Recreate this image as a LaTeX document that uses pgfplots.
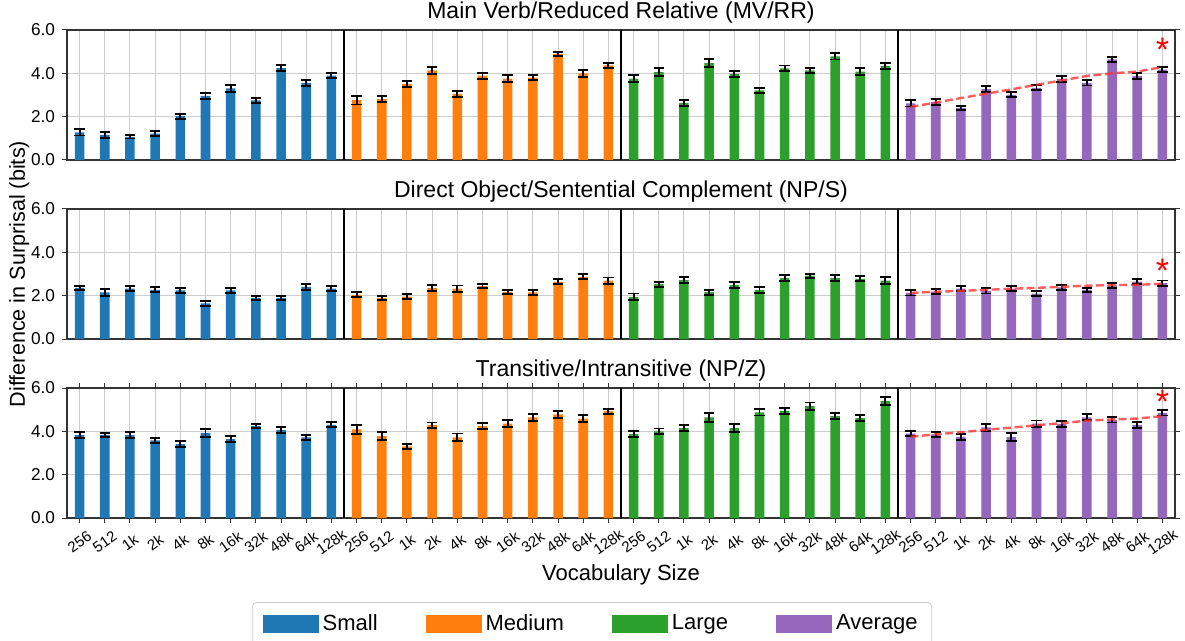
\documentclass[border=0pt]{standalone}
\usepackage{fontspec}
\setmainfont{Liberation Sans}
\usepackage{pgfplots}
\pgfplotsset{compat=1.18}
\usepackage{pgfplotstable}
\usepgfplotslibrary{groupplots}

\definecolor{cS}{HTML}{1F77B4}
\definecolor{cM}{HTML}{FF7F0E}
\definecolor{cL}{HTML}{2CA02C}
\definecolor{cA}{HTML}{9467BD}

% i, small, err, medium, err, large, err, average, err, trend (average)
\pgfplotstableread{
i s se m me l le a ae t
0 1.28 0.15 2.76 0.20 3.76 0.15 2.61 0.14 2.45
1 1.16 0.13 2.81 0.15 4.05 0.18 2.67 0.14 2.65
2 1.07 0.08 3.51 0.13 2.63 0.12 2.41 0.10 2.86
3 1.22 0.10 4.14 0.17 4.47 0.18 3.27 0.15 3.06
4 2.02 0.12 3.05 0.13 3.97 0.12 3.01 0.12 3.26
5 2.96 0.15 3.89 0.14 3.21 0.12 3.33 0.12 3.47
6 3.30 0.18 3.76 0.15 4.23 0.13 3.74 0.15 3.67
7 2.75 0.12 3.80 0.12 4.14 0.12 3.56 0.12 3.88
8 4.24 0.15 4.90 0.10 4.78 0.14 4.64 0.12 4.00
9 3.56 0.13 4.00 0.15 4.08 0.15 3.88 0.15 4.08
10 3.89 0.12 4.37 0.12 4.34 0.13 4.17 0.12 4.29
}\mvrr

\pgfplotstableread{
i s se m me l le a ae t
0 2.36 0.10 2.04 0.12 1.95 0.15 2.13 0.12 2.13
1 2.15 0.15 1.90 0.10 2.53 0.12 2.19 0.10 2.18
2 2.33 0.12 1.96 0.12 2.72 0.15 2.33 0.10 2.22
3 2.27 0.12 2.35 0.15 2.16 0.12 2.22 0.12 2.27
4 2.24 0.12 2.32 0.15 2.50 0.15 2.32 0.12 2.32
5 1.64 0.10 2.44 0.10 2.26 0.12 2.10 0.10 2.36
6 2.24 0.13 2.18 0.10 2.81 0.13 2.38 0.12 2.41
7 1.89 0.10 2.15 0.12 2.92 0.10 2.27 0.10 2.46
8 1.89 0.10 2.64 0.12 2.81 0.13 2.47 0.12 2.49
9 2.41 0.13 2.87 0.12 2.78 0.12 2.65 0.12 2.50
10 2.33 0.12 2.69 0.15 2.70 0.15 2.58 0.12 2.55
}\nps

\pgfplotstableread{
i s se m me l le a ae t
0 3.83 0.12 4.09 0.20 3.87 0.15 3.90 0.13 3.75
1 3.83 0.10 3.78 0.18 4.00 0.13 3.86 0.12 3.86
2 3.83 0.12 3.31 0.12 4.15 0.15 3.75 0.14 3.96
3 3.58 0.12 4.29 0.12 4.64 0.20 4.18 0.15 4.07
4 3.41 0.13 3.72 0.18 4.15 0.18 3.75 0.18 4.17
5 3.93 0.18 4.24 0.15 4.88 0.15 4.36 0.14 4.28
6 3.64 0.13 4.36 0.17 4.94 0.15 4.33 0.14 4.38
7 4.24 0.10 4.64 0.17 5.16 0.17 4.65 0.14 4.49
8 4.06 0.15 4.78 0.15 4.70 0.15 4.53 0.12 4.55
9 3.72 0.13 4.59 0.15 4.61 0.15 4.30 0.13 4.59
10 4.30 0.12 4.93 0.12 5.40 0.17 4.85 0.12 4.70
}\npz

\pgfplotsset{
  mybar/.style={ybar, bar shift=0pt, bar width=0.38, draw=none, fill=#1,
    error bars/.cd, y dir=both, y explicit,
    error bar style={black, line width=0.95pt},
    error mark options={rotate=90, black, mark size=2.6pt, line width=0.95pt}},
  trend/.style={red!80, opacity=0.8, line width=1.2pt, dash pattern=on 4pt off 1.8pt, forget plot},
}
\tikzset{redstar/.style={text=red, font=\fontsize{17}{17}\selectfont}}

\begin{document}
\begin{tikzpicture}
\begin{groupplot}[
  group style={group size=1 by 3, vertical sep=24.5pt},
  scale only axis, width=554pt, height=65pt,
  xmin=-0.5, xmax=43.5, ymin=0, ymax=6,
  ytick={0,2,4,6}, xtick={0,...,43},
  xmajorgrids, ymajorgrids,
  grid style={gray!40, line width=0.5pt},
  axis line style={black!80, line width=0.6pt},
  tick align=outside, major tick length=2.5pt,
  tick style={black!80, line width=0.5pt},
  /pgf/number format/assume math mode=true,
  yticklabel style={font=\fontsize{8.6}{10}\selectfont,
    /pgf/number format/fixed, /pgf/number format/fixed zerofill,
    /pgf/number format/precision=1},
  xticklabel style={font=\fontsize{7.5}{8}\selectfont, anchor=center, yshift=-9.5pt, rotate=35},
  extra x ticks={10.5,21.5,32.5}, extra x tick labels={},
  extra x tick style={major grid style={black, line width=0.6pt}, major tick length=0pt},
  title style={font=\fontsize{11.5}{13}\selectfont, yshift=-6pt},
  xlabel style={font=\fontsize{11}{13}\selectfont},
  xlabel shift=-6.5pt,
  ylabel style={font=\fontsize{10.8}{13}\selectfont},
  ylabel shift=-6pt,
  legend image code/.code={\fill[#1, sharp corners] (0pt,-4.5pt) rectangle (28pt,4.5pt);},
]
\nextgroupplot[title={Main Verb/Reduced Relative (MV/RR)}, xticklabels={}, x tick style={draw=none}]
\addplot[mybar=cS] table[x expr=\coordindex, y=s, y error=se]{\mvrr};
\addplot[mybar=cM] table[x expr=\coordindex+11, y=m, y error=me]{\mvrr};
\addplot[mybar=cL] table[x expr=\coordindex+22, y=l, y error=le]{\mvrr};
\addplot[mybar=cA] table[x expr=\coordindex+33, y=a, y error=ae]{\mvrr};
\addplot[trend] table[x expr=\coordindex+33, y=t]{\mvrr};
\node[redstar] at (axis cs:43,5.1) {*};

\nextgroupplot[title={Direct Object/Sentential Complement (NP/S)}, xticklabels={}, x tick style={draw=none},
  ylabel={Difference in Surprisal (bits)}]
\addplot[mybar=cS] table[x expr=\coordindex, y=s, y error=se]{\nps};
\addplot[mybar=cM] table[x expr=\coordindex+11, y=m, y error=me]{\nps};
\addplot[mybar=cL] table[x expr=\coordindex+22, y=l, y error=le]{\nps};
\addplot[mybar=cA] table[x expr=\coordindex+33, y=a, y error=ae]{\nps};
\addplot[trend] table[x expr=\coordindex+33, y=t]{\nps};
\node[redstar] at (axis cs:43,3.15) {*};

\nextgroupplot[title={Transitive/Intransitive (NP/Z)}, xlabel={Vocabulary Size},
  xticklabels={256,512,1k,2k,4k,8k,16k,32k,48k,64k,128k,
               256,512,1k,2k,4k,8k,16k,32k,48k,64k,128k,
               256,512,1k,2k,4k,8k,16k,32k,48k,64k,128k,
               256,512,1k,2k,4k,8k,16k,32k,48k,64k,128k},
  legend style={at={(0.474,-0.646)}, anchor=north, legend columns=4,
    draw=black!20, rounded corners=2pt, font=\fontsize{11}{13}\selectfont,
    /tikz/every even column/.append style={column sep=22pt},
    inner xsep=5pt, inner ysep=4pt}]
\addplot[mybar=cS] table[x expr=\coordindex, y=s, y error=se]{\npz};
\addlegendentry{Small}
\addplot[mybar=cM] table[x expr=\coordindex+11, y=m, y error=me]{\npz};
\addlegendentry{Medium}
\addplot[mybar=cL] table[x expr=\coordindex+22, y=l, y error=le]{\npz};
\addlegendentry{Large}
\addplot[mybar=cA] table[x expr=\coordindex+33, y=a, y error=ae]{\npz};
\addlegendentry{Average}
\addplot[trend] table[x expr=\coordindex+33, y=t]{\npz};
\node[redstar] at (axis cs:43,5.35) {*};
\end{groupplot}
\pgfresetboundingbox
\path ([xshift=-33.5pt, yshift=15pt]group c1r1.north west) rectangle ([xshift=559pt, yshift=-305.5pt]group c1r1.north west);
\end{tikzpicture}
\end{document}
